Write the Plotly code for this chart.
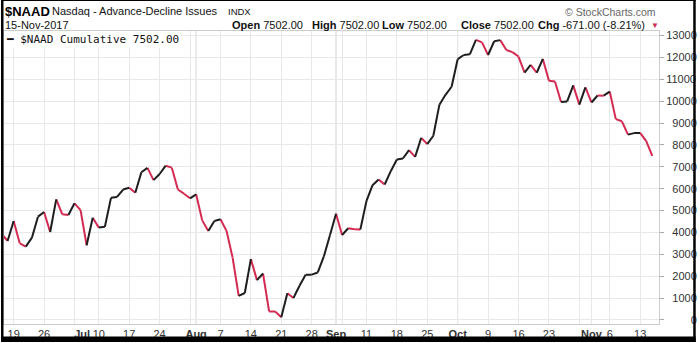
import plotly.graph_objects as go
import pandas as pd

# ---------------- data ----------------
holidays = ["2017-07-04", "2017-09-04"]
dates = [d.strftime("%Y-%m-%d") for d in pd.bdate_range("2017-06-15", "2017-11-15")
         if d.strftime("%Y-%m-%d") not in holidays]

values = [
    3950, 3610, 4520, 3500, 3350, 3760, 4720, 4930, 4020, 5510,
    4825, 4800, 5330, 5020, 3410, 4670, 4220, 4260, 5580, 5620,
    5960, 6040, 5810, 6750, 6950, 6390, 6670, 7050, 6960, 5960,
    5770, 5560, 5740, 4550, 4060, 4520, 4600, 4070, 2850, 1100,
    1230, 2780, 1820, 2120, 390, 380, 120, 1220, 1000, 1560,
    2060, 2070, 2170, 2900, 3870, 4850, 3880, 4190, 4140, 4130,
    5430, 6160, 6420, 6190, 6800, 7330, 7380, 7760, 7450, 8320,
    8040, 8420, 9840, 10290, 10660, 11920, 12110, 12140, 12800, 12690,
    12110, 12740, 12790, 12340, 12240, 12040, 11310, 11660, 11300, 11930,
    10930, 10900, 9960, 9990, 10720, 9840, 10630, 9940, 10260, 10250,
    10440, 9180, 9080, 8470, 8540, 8550, 8173, 7502,
]
assert len(values) == len(dates)

tick_dates = ["2017-06-19", "2017-06-26", "2017-07-03", "2017-07-10", "2017-07-17",
              "2017-07-24", "2017-07-31", "2017-08-01", "2017-08-07", "2017-08-14",
              "2017-08-21", "2017-08-28", "2017-09-01", "2017-09-05", "2017-09-11",
              "2017-09-18", "2017-09-25", "2017-10-02", "2017-10-09", "2017-10-16",
              "2017-10-23", "2017-10-30", "2017-11-01", "2017-11-06", "2017-11-13"]
tick_labels = ["19", "26", "\u00a0\u00a0\u00a0\u00a0\u00a0<b>Jul</b>", "10", "17",
               "24", "", "<b>Aug</b>", "7", "14",
               "21", "28", "<b>Sep</b>", "", "11",
               "18", "25", "<b>Oct</b>", "9", "16",
               "23", "", "<b>Nov</b>", "6", "13"]
month_dates = ["2017-07-03", "2017-08-01", "2017-09-01", "2017-10-02", "2017-11-01"]
y_ticks = list(range(0, 13001, 1000))
y_labels = ["\u2007" * (5 - len(str(v))) + str(v) for v in y_ticks]

UP = "#1e1e1e"
DOWN = "#d42a52"
FONT = "Liberation Sans, Arial, sans-serif"

# ---------------- build segments ----------------
up_x, up_y, dn_x, dn_y = [], [], [], []
for i in range(len(values) - 1):
    a, b = values[i], values[i + 1]
    tx, ty = (up_x, up_y) if b >= a else (dn_x, dn_y)
    tx += [dates[i], dates[i + 1], dates[i + 1]]
    ty += [a, b, None]

fig = go.Figure()
fig.add_trace(go.Scatter(x=dn_x, y=dn_y, mode="lines", line=dict(color=DOWN, width=2),
                         connectgaps=False, hoverinfo="skip", showlegend=False))
fig.add_trace(go.Scatter(x=up_x, y=up_y, mode="lines", line=dict(color=UP, width=2),
                         connectgaps=False, hoverinfo="skip", showlegend=False))

# ---------------- layout geometry ----------------
W, H = 700, 343
ML, MR, MT, MB = 3, 37, 31, 18
PW, PH = W - ML - MR, H - MT - MB


def px(x):
    return (x - ML) / PW


def py(y):
    return (H - MB - y) / PH


shapes = []
for d in month_dates:
    shapes.append(dict(type="line", xref="x", yref="paper", x0=d, x1=d, y0=0, y1=1,
                       line=dict(color="#cfcfcf", width=1), layer="below"))
# outer black frame
frame = [(0, 0, 2.5, H), (W - 2.5, 0, W, H), (0, H - 5.5, W, H), (0, 0, W, 1)]
for x0, y0, x1, y1 in frame:
    shapes.append(dict(type="rect", xref="paper", yref="paper",
                       x0=px(x0), x1=px(x1), y0=py(y1), y1=py(y0),
                       fillcolor="black", line=dict(width=0), layer="above"))

ann = []


def text(x, y, s, size=11, anchor="left", color="#111", family=FONT, bg=None):
    d = dict(x=px(x), y=py(y), xref="paper", yref="paper", text=s, showarrow=False,
             xanchor=anchor, yanchor="middle", font=dict(size=size, color=color, family=family))
    if bg:
        d.update(bgcolor=bg, borderpad=1)
    ann.append(d)


text(2, 11, "<b>$NAAD</b>", size=13, color="#000")
text(49, 11, "Nasdaq - Advance-Decline Issues", size=11)
text(227, 11, "INDX", size=9.5)
text(2, 25, "15-Nov-2017", size=11)
text(662, 12, "\u00a9 StockCharts.com", size=10.5, anchor="right", color="#666")
text(231, 25, "<b>Open</b> 7502.00", size=11)
text(311, 25, "<b>High</b> 7502.00", size=11)
text(382, 25, "<b>Low</b> 7502.00", size=11)
text(461, 25, "<b>Close</b> 7502.00", size=11)
text(539, 25, "<b>Chg</b> -671.00 (-8.21%)", size=11)
text(653, 25, "\u25bc", size=8, color=DOWN)
text(3, 40, "\u2501 $NAAD Cumulative 7502.00", size=11,
     family="DejaVu Sans Mono, monospace", color="#111", bg="white")

fig.update_layout(
    width=W, height=H,
    margin=dict(l=ML, r=MR, t=MT, b=MB, pad=0),
    paper_bgcolor="white", plot_bgcolor="white",
    shapes=shapes, annotations=ann,
    font=dict(family=FONT, size=11, color="#333"),
    xaxis=dict(type="category", categoryorder="array", categoryarray=dates,
               range=[0.413, 108.1], tickmode="array", tickvals=tick_dates,
               ticktext=tick_labels, showgrid=True, gridcolor="#e8e8e8", gridwidth=1,
               ticks="", showline=True, linecolor="#cccccc", mirror=True,
               tickfont=dict(size=11, color="#333", family=FONT), tickangle=0,
               zeroline=False),
    yaxis=dict(side="right", range=[-187, 13208], tickmode="array", tickvals=y_ticks,
               ticktext=y_labels, showgrid=True, gridcolor="#e8e8e8", gridwidth=1,
               ticks="outside", ticklen=4, tickcolor="#aaaaaa", showline=True,
               linecolor="#cccccc", mirror=True, zeroline=False,
               tickfont=dict(size=11, color="#333", family=FONT)),
)

fig.write_html("out.html")
